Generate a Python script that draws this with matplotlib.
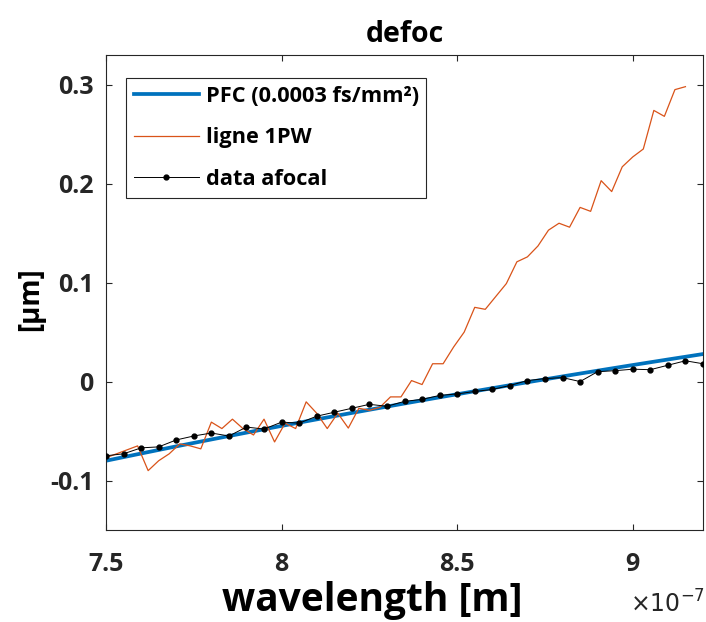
import numpy as np
import matplotlib
matplotlib.use("Agg")
import matplotlib.pyplot as plt
from matplotlib.ticker import FuncFormatter, FixedLocator

plt.rcParams['font.family'] = ['Open Sans', 'DejaVu Sans']

DARK = '#262626'

# PFC fit, wavelength in nm
WL_FIT = [750, 760, 770, 780, 790, 800, 810, 820, 830, 840,
          850, 860, 870, 880, 890, 900, 910, 920]
PFC_FIT = [-0.080, -0.0727, -0.0655, -0.0585, -0.0516, -0.0448, -0.0382, -0.0317, -0.0253, -0.0190,
           -0.0128, -0.0067, -0.0007, 0.0052, 0.0110, 0.0167, 0.0223, 0.0278]

# data afocal, 5 nm steps
WL_AFOCAL = np.arange(750, 921, 5)
AFOCAL = [-0.075, -0.073, -0.067, -0.066, -0.059, -0.055, -0.052, -0.055, -0.046, -0.048,
          -0.041, -0.042, -0.035, -0.031, -0.027, -0.023, -0.025, -0.020, -0.018, -0.014,
          -0.0125, -0.010, -0.008, -0.004, 0.001, 0.003, 0.004, 0.000, 0.010, 0.011,
          0.0125, 0.012, 0.0165, 0.021, 0.018]

# ligne 1PW, 3 nm steps
WL_1PW = np.arange(750, 916, 3)
LIGNE_1PW = [-0.077, -0.073, -0.069, -0.065, -0.090, -0.080, -0.073, -0.063, -0.065, -0.068,
             -0.041, -0.0475, -0.038, -0.0475, -0.054, -0.038, -0.061, -0.042, -0.0475, -0.0205,
             -0.032, -0.0475, -0.032, -0.047, -0.027, -0.029, -0.026, -0.0155, -0.0155, 0.001,
             -0.003, 0.018, 0.018, 0.035, 0.050, 0.075, 0.073, 0.086, 0.099, 0.121,
             0.126, 0.137, 0.153, 0.160, 0.156, 0.176, 0.172, 0.203, 0.192, 0.217,
             0.227, 0.235, 0.274, 0.268, 0.295, 0.298]

X_TICKS = [7.5e-7, 8e-7, 8.5e-7, 9e-7]
Y_TICKS = [-0.1, 0, 0.1, 0.2, 0.3]

fig = plt.figure(figsize=(7.06, 6.22), dpi=100)
ax = fig.add_axes([106 / 706, 92 / 622, 597 / 706, 475 / 622])

ax.plot(np.array(WL_FIT) * 1e-9, PFC_FIT, color='#0072BD', lw=2.7,
        label='PFC (0.0003 fs/mm²)', zorder=2)
ax.plot(WL_1PW * 1e-9, LIGNE_1PW, color='#D95319', lw=0.9, label='ligne 1PW', zorder=3)
ax.plot(WL_AFOCAL * 1e-9, AFOCAL, color='black', lw=0.7, marker='.', ms=7,
        label='data afocal', zorder=4)

ax.set_xlim(7.5e-7, 9.2e-7)
ax.set_ylim(-0.15, 0.33)
ax.xaxis.set_major_locator(FixedLocator(X_TICKS))
ax.yaxis.set_major_locator(FixedLocator(Y_TICKS))
ax.xaxis.set_major_formatter(FuncFormatter(lambda v, p: '%g' % round(v / 1e-7, 3)))
ax.yaxis.set_major_formatter(FuncFormatter(lambda v, p: '%g' % round(v, 3)))

ax.tick_params(direction='in', top=True, right=True, length=4.5, width=0.8,
               color=DARK, labelcolor=DARK, labelsize=18)
ax.tick_params(axis='x', pad=16)
ax.tick_params(axis='y', pad=9)
for lab in ax.get_xticklabels() + ax.get_yticklabels():
    lab.set_fontweight('bold')
for sp in ax.spines.values():
    sp.set_color(DARK)
    sp.set_linewidth(0.8)

ax.set_title('defoc', fontsize=20.5, fontweight='bold', color='black', pad=9)
ax.set_xlabel('wavelength [m]', fontsize=28, fontweight='bold', color='black')
ax.xaxis.set_label_coords((372 - 106) / 597, -0.108)
ax.set_ylabel('[µm]', fontsize=20, fontweight='bold', color='black')
ax.yaxis.set_label_coords(-0.102, 0.486)

fig.text(668 / 706, 1 - 605 / 622, r'$\times10^{-7}$', fontsize=17, color=DARK,
         ha='center', va='center')

leg = ax.legend(loc='upper left', bbox_to_anchor=(20 / 597, 1 - 23 / 475),
                prop={'weight': 'bold', 'size': 15.7}, frameon=True, fancybox=False,
                edgecolor=DARK, framealpha=1, borderaxespad=0, handlelength=3.0,
                handletextpad=0.3, borderpad=0.35, labelspacing=0.95)
leg.get_frame().set_linewidth(0.8)

fig.savefig('out.png', dpi=100)
